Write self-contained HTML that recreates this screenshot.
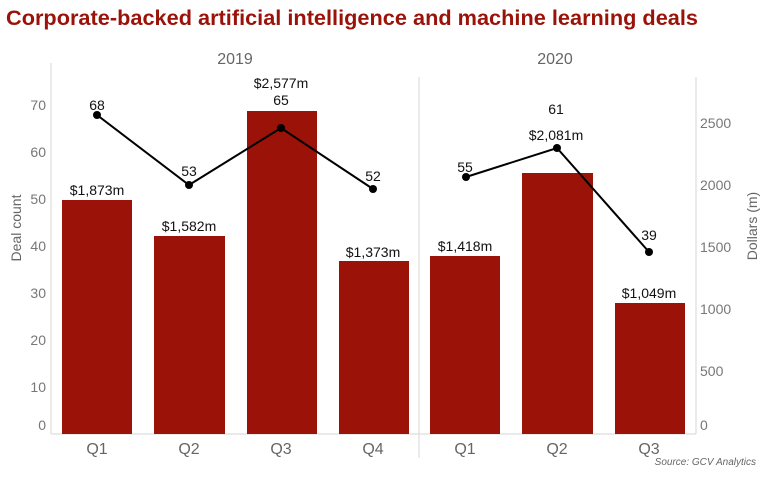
<!DOCTYPE html>
<html><head><style>
body{margin:0;background:#fff;width:768px;height:474px;overflow:hidden}
</style></head><body>
<svg width="768" height="474" xmlns="http://www.w3.org/2000/svg" font-family="Liberation Sans, sans-serif">
<text x="6" y="25" font-size="21" font-weight="bold" fill="#9b1209" textLength="692" lengthAdjust="spacingAndGlyphs">Corporate-backed artificial intelligence and machine learning deals</text>
<g font-size="16" fill="#666" text-anchor="middle">
<text x="235" y="64">2019</text><text x="555" y="64">2020</text>
</g>
<g stroke="#ddd" stroke-width="1.2">
<line x1="51" y1="63" x2="51" y2="434"/>
<line x1="696" y1="77" x2="696" y2="434"/>
<line x1="419" y1="77" x2="419" y2="458"/>
<line x1="51" y1="434" x2="696" y2="434"/>
</g>
<g fill="#9b1209">
<rect x="62" y="200" width="70" height="234"/>
<rect x="154" y="236" width="71" height="198"/>
<rect x="247" y="111" width="70" height="323"/>
<rect x="339" y="261" width="70" height="173"/>
<rect x="430" y="256" width="70" height="178"/>
<rect x="522" y="173" width="71" height="261"/>
<rect x="615" y="303" width="70" height="131"/>
</g>
<polyline points="97,115 189,185 281,128 373,189" fill="none" stroke="#000" stroke-width="2"/>
<polyline points="466,177 557,148 649,252" fill="none" stroke="#000" stroke-width="2"/>
<g fill="#000">
<circle cx="97" cy="115" r="4"/><circle cx="189" cy="185" r="4"/><circle cx="281" cy="128" r="4"/><circle cx="373" cy="189" r="4"/>
<circle cx="466" cy="177" r="4"/><circle cx="557" cy="148" r="4"/><circle cx="649" cy="252" r="4"/>
</g>
<g font-size="14" fill="#111" text-anchor="middle">
<text x="97" y="110">68</text><text x="189" y="176">53</text><text x="281" y="105">65</text><text x="281" y="88">$2,577m</text>
<text x="373" y="181">52</text><text x="465" y="172">55</text><text x="556" y="114">61</text><text x="556" y="140">$2,081m</text>
<text x="649" y="240">39</text>
<text x="97" y="195">$1,873m</text><text x="189" y="231">$1,582m</text><text x="373" y="257">$1,373m</text>
<text x="465" y="251">$1,418m</text><text x="649" y="298">$1,049m</text>
</g>
<g font-size="14" fill="#777" text-anchor="end">
<text x="46" y="110">70</text><text x="46" y="157">60</text><text x="46" y="204">50</text><text x="46" y="251">40</text>
<text x="46" y="298">30</text><text x="46" y="345">20</text><text x="46" y="392">10</text><text x="46" y="430">0</text>
</g>
<g font-size="14" fill="#777" text-anchor="start">
<text x="700" y="128">2500</text><text x="700" y="190">2000</text><text x="700" y="252">1500</text>
<text x="700" y="314">1000</text><text x="700" y="376">500</text><text x="700" y="430">0</text>
</g>
<text transform="translate(21,228) rotate(-90)" font-size="14" fill="#666" text-anchor="middle">Deal count</text>
<text transform="translate(757,226) rotate(-90)" font-size="14" fill="#666" text-anchor="middle">Dollars (m)</text>
<g font-size="16" fill="#666" text-anchor="middle">
<text x="97" y="454">Q1</text><text x="189" y="454">Q2</text><text x="281" y="454">Q3</text><text x="373" y="454">Q4</text>
<text x="465" y="454">Q1</text><text x="557" y="454">Q2</text><text x="649" y="454">Q3</text>
</g>
<text x="756" y="465" font-size="10" font-style="italic" fill="#666" text-anchor="end">Source: GCV Analytics</text>
</svg>
</body></html>
